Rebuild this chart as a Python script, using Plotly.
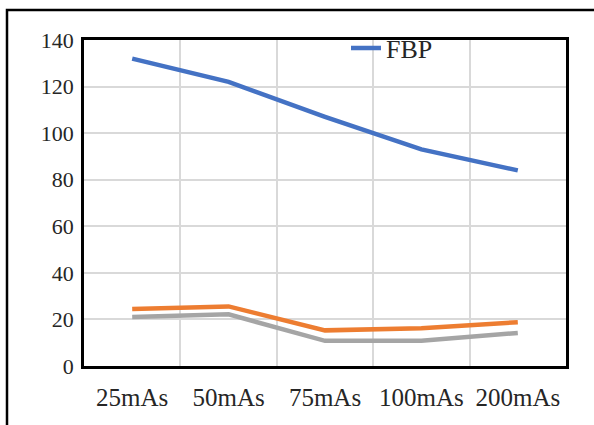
import plotly.graph_objects as go

# Tube current settings on the x axis
doses = ["25mAs", "50mAs", "75mAs", "100mAs", "200mAs"]

# Measured values per reconstruction
fbp = [132, 122, 107, 93, 84]
ir = [24.5, 25.6, 15.3, 16.2, 18.8]
dlr = [21, 22.2, 10.8, 10.8, 14.2]

SERIF = "Liberation Serif"

fig = go.Figure()
fig.add_trace(go.Scatter(x=doses, y=fbp, name="FBP", mode="lines",
                         line=dict(color="#4472c4", width=4.5)))
fig.add_trace(go.Scatter(x=doses, y=ir, name="IR", mode="lines", showlegend=False,
                         line=dict(color="#ed7d31", width=4.5)))
fig.add_trace(go.Scatter(x=doses, y=dlr, name="DLR", mode="lines", showlegend=False,
                         line=dict(color="#a5a5a5", width=4.5)))

# plot area in pixels: x 84..566, y 40..366
L, R, T, B = 84, 566, 40, 366
W, H = 594, 425
pw, ph = R - L, B - T


def px(x):
    return (x - L) / pw


def py(y):
    return (B - y) / ph


fig.update_layout(
    width=W, height=H,
    margin=dict(l=L, r=W - R, t=T, b=H - B, pad=0, autoexpand=False),
    paper_bgcolor="white", plot_bgcolor="white",
    font=dict(family=SERIF, size=22, color="#262626"),
    showlegend=True,
    legend=dict(x=px(346), y=py(48), xanchor="left", yanchor="middle",
                bgcolor="rgba(0,0,0,0)", font=dict(size=26, family=SERIF),
                itemwidth=30, tracegroupgap=0),
    xaxis=dict(type="category", range=[-0.5, 4.5], tickson="boundaries",
               showgrid=True, automargin=False,
               gridcolor="#d9d9d9", gridwidth=2, ticks="",
               showline=True, linecolor="black", linewidth=2.5, mirror=True,
               ticklabelstandoff=7, tickfont=dict(size=25, family=SERIF)),
    yaxis=dict(range=[0, 140], dtick=20, showgrid=True, gridcolor="#d9d9d9",
               gridwidth=2, ticks="", zeroline=False, automargin=False,
               showline=True, linecolor="black", linewidth=2.5, mirror=True,
               ticklabelstandoff=3, tickfont=dict(size=22, family=SERIF)),
    shapes=[dict(type="rect", xref="paper", yref="paper",
                 x0=px(7), x1=px(W + 10), y0=py(H + 10), y1=py(10),
                 line=dict(color="black", width=2.5), layer="below")],
)

fig.write_html("out.html")
